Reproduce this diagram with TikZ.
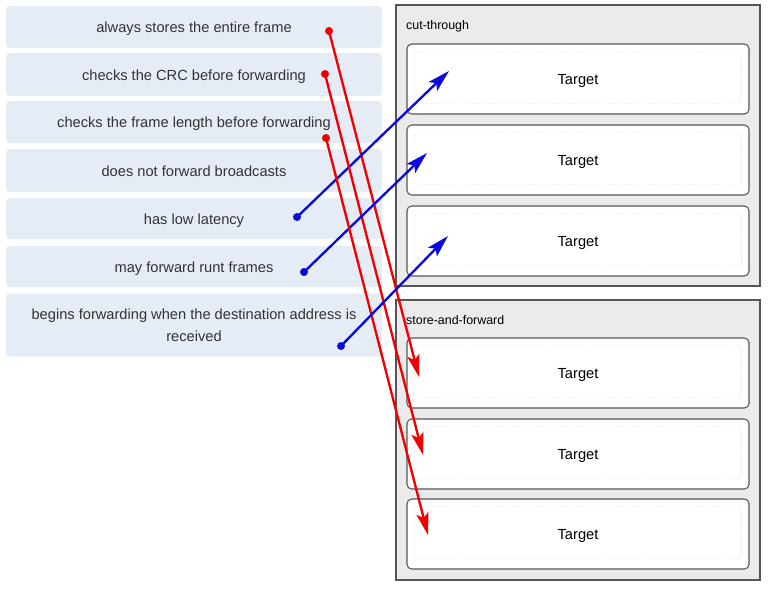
\documentclass[tikz,border=0pt]{standalone}
\usepackage{fontspec}
\setmainfont{Liberation Sans}
\usetikzlibrary{arrows.meta}
\definecolor{cardfill}{HTML}{E6ECF5}
\definecolor{panelfill}{HTML}{EBEBEB}
\definecolor{edge}{HTML}{555555}
\definecolor{txt}{HTML}{333333}
\definecolor{linkred}{HTML}{F00000}
\definecolor{linkblue}{HTML}{0A0ADC}
\tikzset{
  card/.style={fill=cardfill, rounded corners=3pt, minimum width=11.28cm, text=txt,
    align=center, inner sep=0pt, font=\fontsize{12.5}{18.7}\selectfont},
  oneline/.style={text height=1.22em, text depth=0.22em},
  panel/.style={draw=edge, fill=panelfill, line width=0.9pt, minimum width=10.92cm, inner sep=0pt},
  target/.style={draw=edge, fill=white, rounded corners=4pt, line width=0.9pt, oneline,
    minimum width=10.26cm, minimum height=2.1cm, font=\fontsize{12.5}{15}\selectfont},
  slot/.style={draw=gray!45, densely dotted, rounded corners=3pt, minimum width=9.81cm, minimum height=1.56cm},
  paneltitle/.style={anchor=west, inner sep=0pt, font=\fontsize{10.6}{12}\selectfont},
  link/.style={line width=2pt, -{Stealth[length=19pt,width=10.5pt,inset=4pt]}},
}

\begin{document}
\begin{tikzpicture}[x=0.03cm, y=-0.03cm]
\useasboundingbox (0,0) rectangle (768,588);

\node[card, oneline, minimum height=1.26cm] (c1) at (194,27) {always stores the entire frame};
\node[card, oneline, minimum height=1.29cm] (c2) at (194,74.5) {checks the CRC before forwarding};
\node[card, oneline, minimum height=1.26cm] (c3) at (194,122) {checks the frame length before forwarding};
\node[card, oneline, minimum height=1.29cm] (c4) at (194,170.5) {does not forward broadcasts};
\node[card, oneline, minimum height=1.23cm] (c5) at (194,218.5) {has low latency};
\node[card, oneline, minimum height=1.23cm] (c6) at (194,266.5) {may forward runt frames};
\node[card, minimum height=1.89cm] (c7) at (194,325) {begins forwarding when the destination address is\\received};

\node[panel, minimum height=8.43cm] (cut) at (578,145.5) {};
\node[paneltitle] (cuttitle) at (406,26) {cut-through};
\node[panel, minimum height=8.4cm] (saf) at (578,440) {};
\node[paneltitle] (saftitle) at (406,320) {store-and-forward};

\foreach \y [count=\i] in {79,160,241} {
  \node[target] (ct\i) at (578,\y) {Target};
  \node[slot] (ct\i s) at (578,\y-1.5) {};
}
\foreach \y [count=\i] in {373,454,534} {
  \node[target] (sf\i) at (578,\y) {Target};
  \node[slot] (sf\i s) at (578,\y-1.5) {};
}

\coordinate (r1) at (329,31);
\coordinate (r2) at (325,74);
\coordinate (r3) at (326,138);
\coordinate (b1) at (297,217);
\coordinate (b2) at (304,272);
\coordinate (b3) at (341,346);
\coordinate (sf1in) at (419,377);
\coordinate (sf2in) at (423,455);
\coordinate (sf3in) at (428,535);
\coordinate (ct1in) at (449,71);
\coordinate (ct2in) at (427,153);
\coordinate (ct3in) at (448,236);

\foreach \i in {1,2,3} {
  \draw[link, linkred] (r\i) -- (sf\i in);
  \fill[linkred] (r\i) circle (3.4pt);
  \draw[link, linkblue] (b\i) -- (ct\i in);
  \fill[linkblue] (b\i) circle (3.4pt);
}

\end{tikzpicture}
\end{document}
